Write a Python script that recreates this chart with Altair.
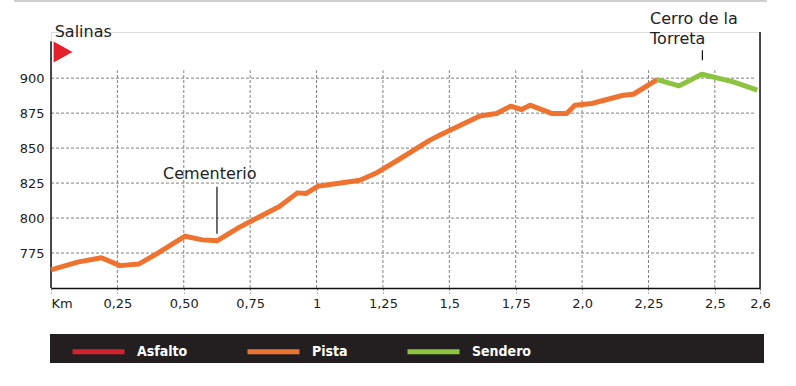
import altair as alt
import pandas as pd

# ---- data ----
pista_km = [0.00, 0.10, 0.19, 0.26, 0.33, 0.39, 0.505, 0.57, 0.625, 0.71, 0.86, 0.928, 0.96,
            1.004, 1.163, 1.223, 1.307, 1.427, 1.465, 1.615, 1.678, 1.731, 1.772, 1.804,
            1.885, 1.942, 1.973, 2.036, 2.155, 2.193, 2.283]
pista_elev = [763, 768.5, 771.6, 766, 767.1, 773.5, 787, 784.4, 783.7, 793.5, 808.2, 818, 817.5,
              822.7, 827, 832, 841.5, 855.7, 859.3, 872.9, 874.8, 880, 877.6, 880.7,
              874.8, 874.8, 880.7, 881.9, 887.8, 888.5, 899]
sendero_km = [2.283, 2.365, 2.451, 2.57, 2.66]
sendero_elev = [899, 894.5, 902.8, 897.3, 891.4]

legend_types = ["Asfalto", "Pista", "Sendero"]
legend_colors = ["#d3222e", "#ef7330", "#8cc43f"]

x_tick_values = [0, 0.25, 0.5, 0.75, 1, 1.25, 1.5, 1.75, 2.0, 2.25, 2.5, 2.67]
x_tick_labels = ["Km", "0,25", "0,50", "0,75", "1", "1,25", "1,5", "1,75", "2,0", "2,25", "2,5", "2,6"]
x_grid_values = [0.25, 0.5, 0.75, 1, 1.25, 1.5, 1.75, 2.0, 2.25, 2.5]
y_tick_values = [775, 800, 825, 850, 875, 900]

left_labels = ["Salinas", "Cerro de la", "Torreta"]
left_labels_km = [0.014, 2.256, 2.256]
left_labels_elev = [929.7, 939.0, 924.2]
center_labels = ["Cementerio"]
center_labels_km = [0.598]
center_labels_elev = [827.7]
leader_km = [0.625, 2.453]
leader_from = [788.7, 912.8]
leader_to = [822.4, 920.0]
flag_km = [0.0454]
flag_elev = [918.75]

FONT = "DejaVu Sans"
TEXT = "#222222"

track = pd.DataFrame({
    "km": pista_km + sendero_km,
    "elev": pista_elev + sendero_elev,
    "tipo": ["Pista"] * len(pista_km) + ["Sendero"] * len(sendero_km),
})
hgrid = pd.DataFrame({"elev": y_tick_values})
vgrid = pd.DataFrame({"km": x_grid_values})
lab_l = pd.DataFrame({"km": left_labels_km, "elev": left_labels_elev, "t": left_labels})
lab_c = pd.DataFrame({"km": center_labels_km, "elev": center_labels_elev, "t": center_labels})
leaders = pd.DataFrame({"km": leader_km, "e1": leader_from, "e2": leader_to})
flag = pd.DataFrame({"km": flag_km, "elev": flag_elev})
one = pd.DataFrame({"a": [0]})

X_SCALE = alt.Scale(domain=[0, 2.67], nice=False, zero=False)
Y_SCALE = alt.Scale(domain=[750, 933], nice=False, zero=False)

vals_js = "[" + ",".join(str(v) for v in x_tick_values) + "]"
labs_js = "[" + ",".join("'" + s + "'" for s in x_tick_labels) + "]"

x_axis = alt.Axis(
    title=None, values=x_tick_values,
    labelExpr=labs_js + "[indexof(" + vals_js + ", datum.value)]",
    labelAlign={"condition": {"test": "datum.value == 0", "value": "left"}, "value": "center"},
    grid=False, domainColor="#111111", domainWidth=1.5,
    tickSize=5, tickColor="#777777", tickDash=[2, 2], tickWidth=1,
    labelFont=FONT, labelFontSize=13, labelColor=TEXT, labelPadding=4,
)
y_axis = alt.Axis(
    title=None, values=y_tick_values, grid=False, domain=False, ticks=False,
    labelFont=FONT, labelFontSize=13, labelColor=TEXT, labelPadding=7,
)


def X(field):
    return alt.X(field, scale=X_SCALE, axis=x_axis)


def Y(field):
    return alt.Y(field, scale=Y_SCALE, axis=y_axis)


grid_style = dict(color="#808080", strokeWidth=1, strokeDash=[3, 2])

h_lines = alt.Chart(hgrid).mark_rule(**grid_style).encode(
    x=alt.datum(0, scale=X_SCALE), x2=alt.datum(2.65), y=Y("elev:Q"))
v_lines = alt.Chart(vgrid).mark_rule(**grid_style).encode(
    x=X("km:Q"), y=alt.datum(750, scale=Y_SCALE), y2=alt.datum(905.6))

left_border = alt.Chart(one).mark_rule(color="#111111", strokeWidth=1.5).encode(
    x=alt.datum(0, scale=X_SCALE), y=alt.datum(750, scale=Y_SCALE), y2=alt.datum(926.3))
right_border = alt.Chart(one).mark_rule(color="#111111", strokeWidth=1.5).encode(
    x=alt.datum(2.67, scale=X_SCALE), y=alt.datum(750, scale=Y_SCALE), y2=alt.datum(933))

top_line = alt.Chart(one).mark_rule(color="#cfcfcf", strokeWidth=2).encode(
    x=alt.value(-37), x2=alt.value(716), y=alt.value(-31))
legend_bar = alt.Chart(one).mark_rect(color="#231f20").encode(
    x=alt.value(-1), x2=alt.value(713), y=alt.value(302), y2=alt.value(331))

line = alt.Chart(track).mark_line(strokeWidth=5, strokeJoin="round").encode(
    x=X("km:Q"), y=Y("elev:Q"),
    color=alt.Color(
        "tipo:N",
        scale=alt.Scale(domain=legend_types, range=legend_colors),
        legend=alt.Legend(
            title=None, orient="none", legendX=19, legendY=291, direction="horizontal",
            symbolType="stroke", symbolSize=2704, symbolStrokeWidth=5,
            labelColor="white", labelFont="DejaVu Sans Condensed, DejaVu Sans, sans-serif",
            labelFontWeight="bold", labelFontSize=14, labelOffset=10,
            columnPadding=49, padding=0, zindex=1,
        ),
    ),
    order="km:Q",
)

txt_l = alt.Chart(lab_l).mark_text(align="left", baseline="alphabetic", font=FONT,
                                   fontSize=16, color=TEXT).encode(
    x=X("km:Q"), y=Y("elev:Q"), text="t:N")
txt_c = alt.Chart(lab_c).mark_text(align="center", baseline="alphabetic", font=FONT,
                                   fontSize=16, color=TEXT).encode(
    x=X("km:Q"), y=Y("elev:Q"), text="t:N")
lead = alt.Chart(leaders).mark_rule(color="#111111", strokeWidth=1.2).encode(
    x=X("km:Q"), y=Y("e1:Q"), y2="e2:Q")
flag_mark = alt.Chart(flag).mark_point(shape="M-0.9,-1L0.9,0L-0.9,1Z", filled=True,
                                       color="#e5202a", size=441, opacity=1,
                                       strokeWidth=0).encode(
    x=X("km:Q"), y=Y("elev:Q"))

chart = alt.layer(
    top_line, legend_bar, h_lines, v_lines, left_border, right_border,
    line, lead, txt_l, txt_c, flag_mark,
).properties(
    width=709, height=256,
    autosize=alt.AutoSizeParams(type="none"),
    padding={"left": 51, "top": 32, "right": 36, "bottom": 98},
).configure_view(strokeWidth=0).configure(background="white")

chart.save("out.html", embed_options={"renderer": "svg", "actions": False})
